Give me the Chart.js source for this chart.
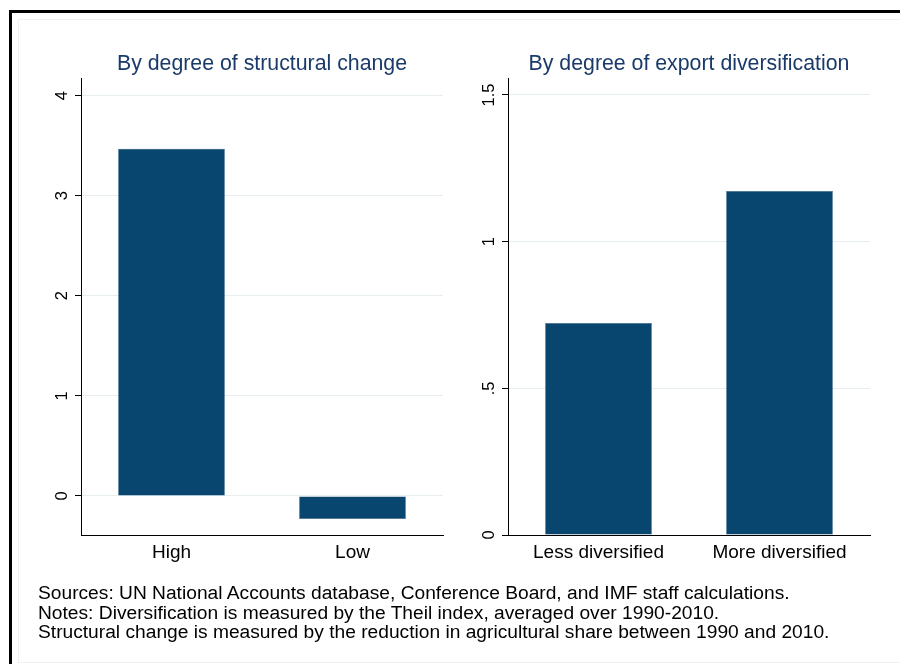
<!DOCTYPE html>
<html>
<head>
<meta charset="utf-8">
<script src="https://cdn.jsdelivr.net/npm/chart.js@4"></script>
<style>
  body { margin: 0; background: #fff; width: 900px; height: 664px; overflow: hidden; position: relative; font-family: "Liberation Sans", Arial, sans-serif; }
  #outer { position: absolute; left: 9px; top: 10px; width: 900px; height: 660px; border-left: 3px solid #000; border-top: 3px solid #000; }
  #inner { position: absolute; left: 18px; top: 19px; width: 900px; height: 642px; border-left: 1px solid #eef2f4; border-top: 1px solid #eef2f4; border-bottom: 1px solid #eef2f4; }
  canvas { position: absolute; top: 0; }
  #notes { position: absolute; left: 38px; top: 583px; font-size: 19.2px; line-height: 19.5px; color: #000; white-space: nowrap; }
</style>
</head>
<body>
<div id="outer"></div>
<div id="inner"></div>
<canvas id="left" width="450" height="590" style="left:0"></canvas>
<canvas id="right" width="450" height="590" style="left:450px"></canvas>
<div id="notes">
Sources: UN National Accounts database, Conference Board, and IMF staff calculations.<br>
Notes: Diversification is measured by the Theil index, averaged over 1990-2010.<br>
Structural change is measured by the reduction in agricultural share between 1990 and 2010.
</div>
<script>
// left panel
const structCats = ['High', 'Low'];
const structValues = [3.47, -0.23];
const structTicks = [0, 1, 2, 3, 4];
const structTickLabels = ['0', '1', '2', '3', '4'];

// right panel
const diversCats = ['Less diversified', 'More diversified'];
const diversValues = [0.723, 1.173];
const diversTicks = [0, 0.5, 1, 1.5];
const diversTickLabels = ['0', '.5', '1', '1.5'];

const FONT = '"Liberation Sans", Arial, sans-serif';
const barColor = '#08456f';
const gridColor = '#e6eef2';

// y labels in Stata are turned 90 degrees
const rotatedYLabels = {
  id: 'rotatedYLabels',
  afterDraw(chart, args, opts) {
    const y = chart.scales.y;
    const c = chart.ctx;
    c.save();
    c.font = '16.5px ' + FONT;
    c.fillStyle = '#000';
    c.textAlign = 'center';
    c.textBaseline = 'middle';
    y.ticks.forEach((t, i) => {
      const py = y.getPixelForValue(t.value);
      c.save();
      c.translate(y.right - 19, py);
      c.rotate(-Math.PI / 2);
      c.fillText(opts.labels[i], 0, 0);
      c.restore();
    });
    c.restore();
  }
};

function makePanel(id, title, cats, values, tickVals, tickLabels, ymin, ymax, pad) {
  return new Chart(document.getElementById(id), {
    type: 'bar',
    data: {
      labels: cats,
      datasets: [{
        data: values,
        backgroundColor: barColor,
        borderColor: '#3d6a8c',
        borderWidth: 0.5,
        barPercentage: 0.59,
        categoryPercentage: 1
      }]
    },
    options: {
      responsive: false,
      animation: false,
      layout: { padding: pad },
      plugins: {
        legend: { display: false },
        tooltip: { enabled: false },
        title: {
          display: true,
          text: title,
          fullSize: false,
          color: '#1a3a6a',
          font: { family: FONT, size: 21.3, weight: 'normal' },
          padding: { top: 0, bottom: 2 }
        },
        rotatedYLabels: { labels: tickLabels }
      },
      scales: {
        x: {
          grid: { display: false, drawTicks: false },
          border: { display: true, color: '#000', width: 1 },
          ticks: { color: '#000', font: { family: FONT, size: 19 }, padding: 6 },
          afterFit: s => { s.height = 45; }
        },
        y: {
          min: ymin,
          max: ymax,
          afterBuildTicks: s => { s.ticks = tickVals.map(v => ({ value: v })); },
          grid: {
            color: ctx => (ctx.tick && ctx.tick.value === 0 && ymin === 0) ? 'rgba(0,0,0,0)' : gridColor,
            tickColor: '#000',
            tickLength: 6,
            lineWidth: 1
          },
          border: { display: true, color: '#000', width: 1 },
          ticks: { display: false },
          afterFit: s => { s.width = 30; }
        }
      }
    },
    plugins: [rotatedYLabels]
  });
}

makePanel('left', 'By degree of structural change', structCats, structValues,
  structTicks, structTickLabels, -0.39, 4.17, { left: 51, right: 7, top: 51, bottom: 10 });
makePanel('right', 'By degree of export diversification', diversCats, diversValues,
  diversTicks, diversTickLabels, 0, 1.556, { left: 28, right: 30, top: 51, bottom: 10 });
</script>
</body>
</html>
